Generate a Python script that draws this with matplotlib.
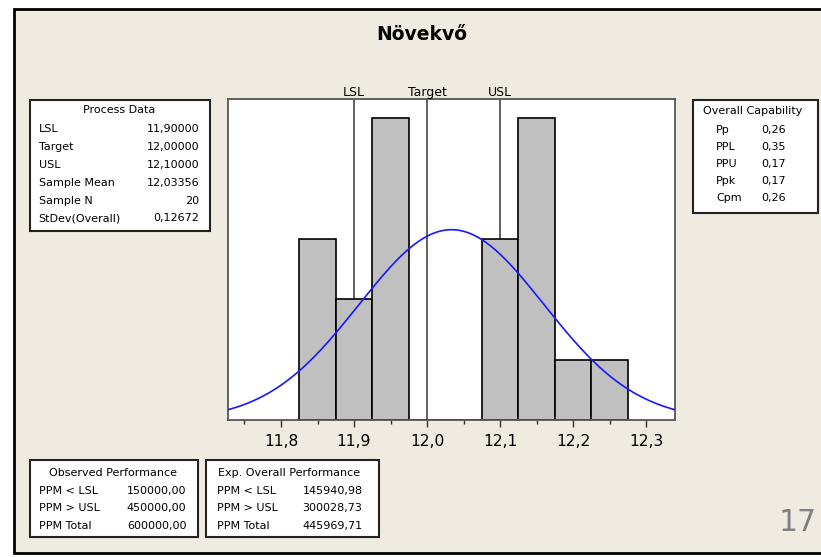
import numpy as np
import matplotlib
matplotlib.use("Agg")
import matplotlib.pyplot as plt
from matplotlib.patches import Rectangle

# ---- data ----
bin_centers = [11.85, 11.90, 11.95, 12.00, 12.05, 12.10, 12.15, 12.20, 12.25]
bin_counts = [3, 2, 5, 0, 0, 3, 5, 1, 1]
bin_width = 0.05
lsl, target, usl = 11.9, 12.0, 12.1
mean, sd, n = 12.03356, 0.12672, 20
xticks = [11.8, 11.9, 12.0, 12.1, 12.2, 12.3]
xtick_labels = ["11,8", "11,9", "12,0", "12,1", "12,2", "12,3"]

title = "Növekvő"
process_rows = [("LSL", "11,90000"), ("Target", "12,00000"), ("USL", "12,10000"),
                ("Sample Mean", "12,03356"), ("Sample N", "20"), ("StDev(Overall)", "0,12672")]
capability_rows = [("Pp", "0,26"), ("PPL", "0,35"), ("PPU", "0,17"), ("Ppk", "0,17"), ("Cpm", "0,26")]
observed_rows = [("PPM < LSL", "150000,00"), ("PPM > USL", "450000,00"), ("PPM Total", "600000,00")]
expected_rows = [("PPM < LSL", "145940,98"), ("PPM > USL", "300028,73"), ("PPM Total", "445969,71")]

W, H = 821, 557
fig = plt.figure(figsize=(W / 100, H / 100), dpi=100)
fig.patch.set_facecolor("white")

def fx(x):
    return x / W

def fy(y):
    return 1 - y / H

def frect(x0, y0, x1, y1, fc, ec, lw, z=0):
    r = Rectangle((fx(x0), fy(y1)), fx(x1) - fx(x0), fy(y0) - fy(y1),
                  transform=fig.transFigure, facecolor=fc, edgecolor=ec, linewidth=lw, zorder=z)
    fig.patches.append(r)

# slide background with frame
frect(13.5, 8.5, 830, 552.5, "#EFEBE0", "black", 2.0, z=-5)

# ---- main axes ----
ax = fig.add_axes([fx(228), fy(420), fx(675) - fx(228), fy(99) - fy(420)])
ax.set_zorder(3)
ax.set_facecolor("white")
ax.bar(bin_centers, bin_counts, width=bin_width, color="#C0C0C0", edgecolor="black",
       linewidth=1.2, zorder=2)
for v in (lsl, target, usl):
    ax.axvline(v, color="#555555", linewidth=1.3, zorder=1)
xs = np.linspace(11.72, 12.35, 400)
ys = n * bin_width * np.exp(-0.5 * ((xs - mean) / sd) ** 2) / (sd * np.sqrt(2 * np.pi))
ax.plot(xs, ys, color="#1818FF", linewidth=1.2, zorder=3)

ax.set_xlim(11.7274, 12.3397)
ax.set_ylim(0, 5.31)
ax.set_yticks([])
ax.set_xticks(xticks)
ax.set_xticklabels(xtick_labels, fontsize=11.2)
ax.set_xticks(np.arange(11.75, 12.34, 0.1), minor=True)
ax.tick_params(axis="x", which="major", direction="out", length=5, width=1, pad=5, colors="#333333")
ax.tick_params(axis="x", which="minor", direction="out", length=3, width=1, colors="#333333")
for lab in ax.get_xticklabels():
    lab.set_color("black")
for s in ax.spines.values():
    s.set_color("#555555")
    s.set_linewidth(1.3)

# spec labels above axes
for v, lab in ((lsl, "LSL"), (target, "Target"), (usl, "USL")):
    ax.text(v, 1.0, lab, transform=ax.get_xaxis_transform(), ha="center", va="bottom",
            fontsize=9, color="black")

# title
fig.text(fx(421.5), fy(34), title, ha="center", va="center", fontsize=13.5, fontweight="bold")

# ---- info boxes ----
def info_box(x0, y0, x1, y1, head, head_x, head_y, rows, lab_x, val_x, row_y0, dy, val_align):
    frect(x0, y0, x1, y1, "white", "#222222", 1.5, z=1)
    fig.text(fx(head_x), fy(head_y), head, ha="center", va="center", fontsize=8, zorder=2)
    for i, (lab, val) in enumerate(rows):
        yy = row_y0 + i * dy
        fig.text(fx(lab_x), fy(yy), lab, ha="left", va="center", fontsize=8, zorder=2)
        fig.text(fx(val_x), fy(yy), val, ha=val_align, va="center", fontsize=8, zorder=2)

info_box(30, 100, 210, 231, "Process Data", 119.5, 110.5, process_rows, 38.5, 199.5, 129.3, 17.8, "right")
info_box(693, 100, 818, 212.5, "Overall Capability", 753, 111, capability_rows, 716, 761.5, 130, 17.1, "left")
info_box(30, 460, 198, 537, "Observed Performance", 113, 472.5, observed_rows, 39, 186.5, 490.7, 17.5, "right")
info_box(205.5, 460, 378.5, 537, "Exp. Overall Performance", 289.5, 472.5, expected_rows, 217, 362.5, 490.7, 17.5, "right")

# slide number
fig.text(fx(817), fy(522.5), "17", ha="right", va="center", fontsize=21.5, color="#808080")

fig.savefig("out.png", dpi=100, facecolor=fig.get_facecolor())
